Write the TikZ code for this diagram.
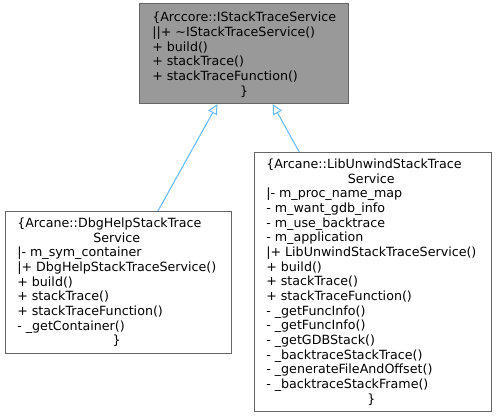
\documentclass[tikz,border=0pt]{standalone}
\usepackage{fontspec}
\setmainfont{DejaVu Sans}
\usetikzlibrary{arrows.meta,calc}
\definecolor{boxline}{HTML}{666666}
\definecolor{topfill}{HTML}{999999}
\definecolor{inh}{HTML}{63B8FF}
\newcommand{\mylines}[1]{\fontsize{9.5}{11}\selectfont\setlength{\tabcolsep}{0pt}\begin{tabular}[t]{l}#1\end{tabular}}
\newcommand{\cl}[1]{\multicolumn{1}{c}{#1}}
\begin{document}
\begin{tikzpicture}[x=0.75pt,y=-0.75pt,
  umlbox/.style={draw=boxline,line width=0.9pt,rectangle,anchor=north west,inner sep=0pt},
  txt/.style={anchor=base west,inner sep=0pt,text=black},
  inherit/.style={draw=inh,line width=0.75pt,-{Triangle[open,length=7.5pt,width=7.5pt]}}]
\useasboundingbox (0,0) rectangle (497,417);
\node[umlbox,fill=topfill,minimum width=156.75pt,minimum height=75pt] (top) at (139,3) {};
\node[umlbox,fill=white,minimum width=169.5pt,minimum height=106.5pt] (left) at (5,211) {};
\node[umlbox,fill=white,minimum width=177.75pt,minimum height=194.25pt] (right) at (254,152) {};
\node[txt] (toptxt) at (152,22) {\mylines{%
\{Arccore::IStackTraceService\\
||+ \textasciitilde IStackTraceService()\\
+ build()\\
+ stackTrace()\\
+ stackTraceFunction()\\
\cl{\}}}};
\node[txt] (lefttxt) at (17,227.5) {\mylines{%
\{Arcane::DbgHelpStackTrace\\
\cl{Service}\\
|- m\_sym\_container\\
|+ DbgHelpStackTraceService()\\
+ build()\\
+ stackTrace()\\
+ stackTraceFunction()\\
- \_getContainer()\\
\cl{\}}}};
\node[txt] (righttxt) at (266,168.5) {\mylines{%
\{Arcane::LibUnwindStackTrace\\
\cl{Service}\\
|- m\_proc\_name\_map\\
- m\_want\_gdb\_info\\
- m\_use\_backtrace\\
- m\_application\\
|+ LibUnwindStackTraceService()\\
+ build()\\
+ stackTrace()\\
+ stackTraceFunction()\\
- \_getFuncInfo()\\
- \_getFuncInfo()\\
- \_getGDBStack()\\
- \_backtraceStackTrace()\\
- \_generateFileAndOffset()\\
- \_backtraceStackFrame()\\
\cl{\}}}};
\draw[inherit] ($(left.north west)!0.673!(left.north east)$) -- ($(top.south west)!0.373!(top.south east)$);
\draw[inherit] ($(right.north west)!0.19!(right.north east)$) -- ($(top.south west)!0.636!(top.south east)$);
\end{tikzpicture}
\end{document}
